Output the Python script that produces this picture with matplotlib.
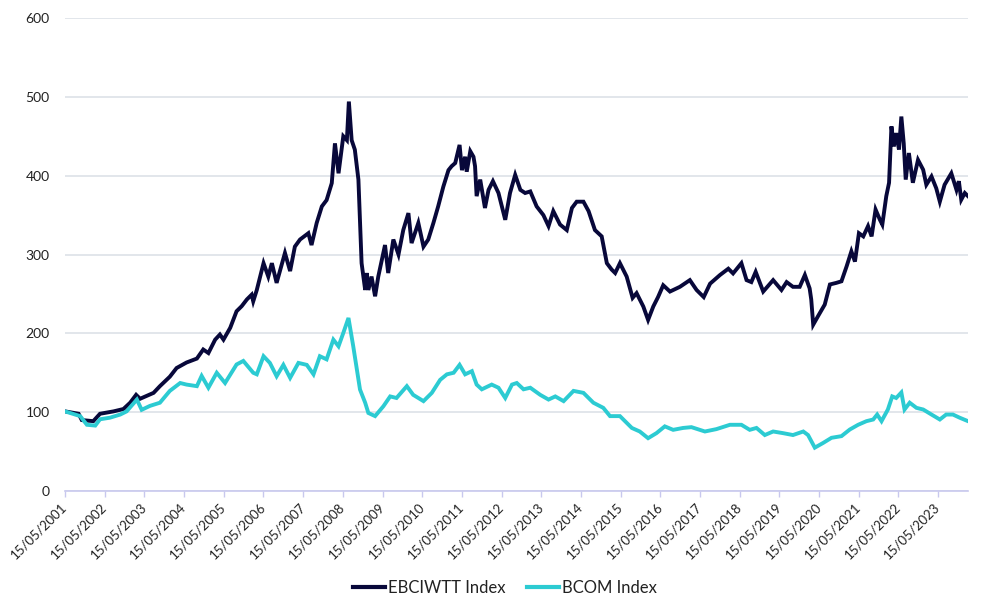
import datetime as dt
import matplotlib
matplotlib.use("Agg")
import matplotlib.pyplot as plt

# ---- data (decimal years, index values) ----
ebci_years = [
    2001.37, 2001.71, 2001.79, 2002.08, 2002.25, 2002.59, 2002.84, 2003.01, 2003.16, 2003.26,
    2003.60, 2003.76, 2004.01, 2004.18, 2004.43, 2004.69, 2004.85, 2004.98, 2005.15, 2005.27,
    2005.36, 2005.53, 2005.69, 2005.82, 2005.95, 2006.07, 2006.11, 2006.20, 2006.37, 2006.49,
    2006.58, 2006.70, 2006.91, 2007.04, 2007.16, 2007.29, 2007.50, 2007.58, 2007.71, 2007.84,
    2007.96, 2008.09, 2008.17, 2008.26, 2008.38, 2008.47, 2008.52, 2008.59, 2008.67, 2008.76,
    2008.84, 2008.93, 2008.97, 2009.01, 2009.09, 2009.18, 2009.26, 2009.43, 2009.51, 2009.64,
    2009.77, 2009.89, 2010.02, 2010.10, 2010.27, 2010.40, 2010.52, 2010.65, 2010.77, 2010.90,
    2011.03, 2011.11, 2011.20, 2011.31, 2011.37, 2011.45, 2011.49, 2011.58, 2011.66, 2011.70,
    2011.74, 2011.83, 2011.95, 2012.04, 2012.15, 2012.29, 2012.46, 2012.58, 2012.71, 2012.84,
    2012.96, 2013.09, 2013.25, 2013.42, 2013.55, 2013.67, 2013.84, 2014.01, 2014.14, 2014.26,
    2014.43, 2014.56, 2014.72, 2014.89, 2015.02, 2015.14, 2015.23, 2015.35, 2015.52, 2015.67,
    2015.77, 2015.94, 2016.06, 2016.19, 2016.31, 2016.44, 2016.61, 2016.86, 2017.11, 2017.28,
    2017.46, 2017.62, 2017.87, 2018.08, 2018.20, 2018.41, 2018.54, 2018.66, 2018.77, 2018.96,
    2019.21, 2019.42, 2019.55, 2019.71, 2019.88, 2020.01, 2020.13, 2020.17, 2020.22, 2020.34,
    2020.51, 2020.64, 2020.80, 2020.93, 2021.06, 2021.18, 2021.27, 2021.37, 2021.48, 2021.60,
    2021.69, 2021.79, 2021.90, 2021.96, 2022.06, 2022.13, 2022.19, 2022.25, 2022.31, 2022.38,
    2022.44, 2022.50, 2022.55, 2022.63, 2022.73, 2022.86, 2022.99, 2023.07, 2023.20, 2023.32,
    2023.41, 2023.53, 2023.70, 2023.83, 2023.89, 2023.95, 2024.04, 2024.12,
]
ebci_values = [
    101, 98, 90, 88.6, 98, 101, 104, 112, 122, 117,
    124.5, 133, 145, 156, 163, 168, 179.5, 175, 192, 198.5,
    192, 207, 228, 234.5, 243, 249, 240.6, 255, 289, 272,
    289, 264, 302, 279, 310, 319, 327, 312, 340, 361,
    369, 390.5, 441, 403, 450, 445, 494, 445, 433, 395,
    289, 255, 276.5, 255, 272, 247, 272, 312, 276.5, 319,
    300, 331, 352.5, 314.5, 340, 310, 319, 340, 361, 386,
    407, 412, 416, 439, 407, 424, 405, 431, 424, 412,
    374, 395, 359, 382, 393, 378, 344, 378, 401, 382,
    378, 380, 361, 350, 336, 355, 338, 331, 359, 367,
    367, 355, 331, 323, 289, 281, 276.5, 289, 272, 245,
    251, 234, 217, 234, 246, 261, 253, 259, 267.5, 255,
    246, 263, 274, 282, 276, 289, 267.5, 265, 278, 253,
    267.5, 255, 265, 259, 259, 274, 257, 243, 211, 221.7,
    236.5, 262, 264, 266, 285, 304, 291, 327, 323, 336,
    323, 357, 344, 338, 374, 391, 462.5, 437, 454, 433,
    475, 441, 395, 428.7, 391, 420, 407.5, 388.5, 399, 384,
    367, 388.5, 403, 382, 393, 369.5, 378, 374,
]

bcom_years = [
    2001.37, 2001.75, 2001.92, 2002.13, 2002.25, 2002.50, 2002.76, 2002.92, 2003.18, 2003.30,
    2003.51, 2003.76, 2004.01, 2004.27, 2004.43, 2004.69, 2004.81, 2004.98, 2005.19, 2005.40,
    2005.69, 2005.86, 2006.11, 2006.20, 2006.37, 2006.53, 2006.70, 2006.87, 2007.04, 2007.25,
    2007.46, 2007.63, 2007.79, 2007.96, 2008.13, 2008.26, 2008.38, 2008.51, 2008.63, 2008.80,
    2008.93, 2009.01, 2009.18, 2009.39, 2009.56, 2009.72, 2009.98, 2010.14, 2010.40, 2010.61,
    2010.82, 2010.99, 2011.16, 2011.31, 2011.45, 2011.62, 2011.74, 2011.87, 2012.12, 2012.29,
    2012.46, 2012.63, 2012.75, 2012.92, 2013.09, 2013.34, 2013.55, 2013.72, 2013.93, 2014.18,
    2014.43, 2014.68, 2014.93, 2015.10, 2015.35, 2015.65, 2015.85, 2016.06, 2016.27, 2016.48,
    2016.69, 2016.94, 2017.15, 2017.49, 2017.78, 2018.12, 2018.41, 2018.62, 2018.79, 2019.00,
    2019.21, 2019.46, 2019.71, 2019.97, 2020.09, 2020.26, 2020.47, 2020.68, 2020.93, 2021.14,
    2021.35, 2021.56, 2021.73, 2021.83, 2021.94, 2022.10, 2022.21, 2022.31, 2022.44, 2022.52,
    2022.65, 2022.82, 2022.99, 2023.20, 2023.41, 2023.57, 2023.74, 2023.91, 2024.12,
]
bcom_values = [
    101, 95, 84, 83, 91, 93, 97, 101, 116, 103,
    108, 112, 127, 137, 135, 133, 146, 131, 150, 137,
    160.5, 165, 150, 148, 171, 162.5, 145.6, 160, 143.5, 162.5,
    160, 148, 171, 167, 192, 183.6, 200.5, 219.5, 183.6, 128.7,
    112, 99, 95, 107.6, 120, 118, 133, 122, 114, 124.5,
    141, 148, 150, 160, 148, 152, 135, 129, 135, 131,
    118, 135, 137, 129, 131, 122, 116, 120, 114, 127,
    124.5, 112, 105.5, 95, 95, 80, 75.5, 67, 73.4, 82,
    77.6, 80, 81, 75.5, 78.5, 84, 84, 77.6, 80, 71,
    75.5, 73.4, 71, 75.5, 71, 55, 61, 67.5, 69.6, 78,
    84, 88.6, 90.7, 97, 88.6, 103.4, 120, 118, 125, 103.4,
    112, 105.5, 103.4, 97, 90.7, 97, 97, 93, 88.6,
]

series_labels = ["EBCIWTT Index", "BCOM Index"]
tick_years = list(range(2001, 2024))
y_ticks = [0, 100, 200, 300, 400, 500, 600]
x_end_year = 2024.12


def to_date(y):
    year = int(y)
    start = dt.datetime(year, 1, 1)
    days = (dt.datetime(year + 1, 1, 1) - start).days
    return start + dt.timedelta(days=(y - year) * days)


ebci_dates = [to_date(y) for y in ebci_years]
bcom_dates = [to_date(y) for y in bcom_years]

plt.rcParams['font.family'] = ['Lato', 'DejaVu Sans']

fig = plt.figure(figsize=(10, 6.16), dpi=100)
ax = fig.add_axes([0.065, 0.2029, 0.903, 0.7679])

dark = '#08083a'
teal = '#2ccbd2'
ax.plot(ebci_dates, ebci_values, color=dark, lw=2.8, label=series_labels[0],
        solid_joinstyle='miter')
ax.plot(bcom_dates, bcom_values, color=teal, lw=2.8, label=series_labels[1],
        solid_joinstyle='miter')

ax.set_ylim(0, 600)
ax.set_yticks(y_ticks)
ax.set_xlim(to_date(2001 + 134 / 365), to_date(x_end_year))
tick_dates = [dt.datetime(y, 5, 15) for y in tick_years]
ax.set_xticks(tick_dates)
ax.set_xticklabels([d.strftime('%d/%m/%Y') for d in tick_dates])

ax.grid(axis='y', color='#dde1e8', lw=1.2)
ax.set_axisbelow(True)
for s in ['top', 'right', 'left']:
    ax.spines[s].set_visible(False)
ax.spines['bottom'].set_color('#c8c8ee')
ax.spines['bottom'].set_linewidth(1.2)

ax.tick_params(axis='y', length=0, pad=11, labelsize=10, labelcolor='#222222')
ax.tick_params(axis='x', length=4, width=1, color='#c8c8ee', pad=6,
               labelsize=9.5, labelcolor='#222222')
for lab in ax.get_xticklabels():
    lab.set_rotation(45)
    lab.set_ha('right')
    lab.set_va('center')
    lab.set_rotation_mode('anchor')

leg = fig.legend(loc='center', bbox_to_anchor=(0.505, 0.046), ncol=2, frameon=False,
                 fontsize=12, handlelength=1.9, handletextpad=0.2, columnspacing=1.3)
for line in leg.get_lines():
    line.set_linewidth(3)
for t in leg.get_texts():
    t.set_color('#222222')

fig.savefig('out.png', dpi=100)
